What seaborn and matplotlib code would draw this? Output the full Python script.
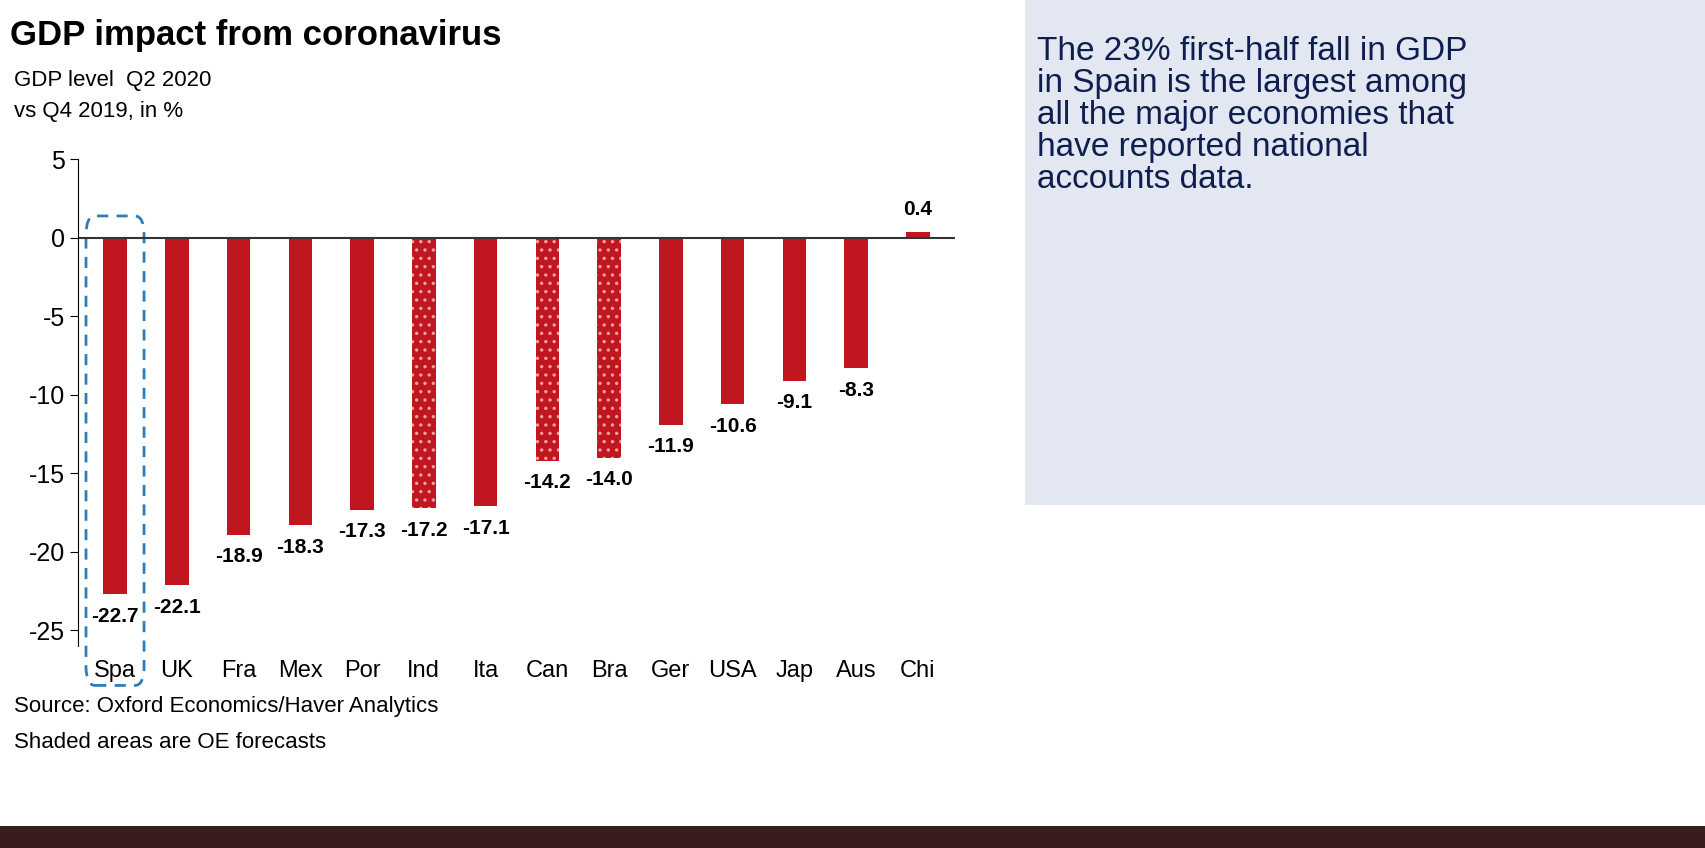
import matplotlib
matplotlib.use("Agg")
import matplotlib.pyplot as plt
import seaborn as sns
import pandas as pd
from matplotlib.patches import FancyBboxPatch, Rectangle

countries = ["Spa", "UK", "Fra", "Mex", "Por", "Ind", "Ita", "Can", "Bra", "Ger", "USA", "Jap", "Aus", "Chi"]
values = [-22.7, -22.1, -18.9, -18.3, -17.3, -17.2, -17.1, -14.2, -14.0, -11.9, -10.6, -9.1, -8.3, 0.4]
forecast = [False, False, False, False, False, True, False, True, True, False, False, False, False, False]
yticks = [5, 0, -5, -10, -15, -20, -25]

plt.rcParams["font.family"] = "Liberation Sans"
plt.rcParams["axes.unicode_minus"] = False
plt.rcParams["hatch.linewidth"] = 1.2
df = pd.DataFrame({"country": countries, "value": values})
red = "#C0161F"

fig = plt.figure(figsize=(17.06, 8.48), dpi=100)
ax = fig.add_axes([0.0457, 0.238, 0.514, 0.574])
sns.barplot(data=df, x="country", y="value", color=red, width=0.38, ax=ax, saturation=1)
for bar, fc in zip(ax.patches, forecast):
    bar.set_linewidth(0)
    if fc:
        bar.set_hatch("..")
        bar.set_edgecolor("#F4A0A0")
ax.set_ylim(-26, 5)
ax.set_xlim(-0.6, 13.6)
ax.set_yticks(yticks)
ax.tick_params(axis="y", labelsize=18, length=6, direction="out")
ax.tick_params(axis="x", labelsize=17, length=0, pad=10)
ax.set_xlabel("")
ax.set_ylabel("")
for s in ["top", "right", "bottom"]:
    ax.spines[s].set_visible(False)
ax.axhline(0, color="#333333", lw=1.5)
for i, v in enumerate(values):
    if v < 0:
        ax.text(i, v - 0.8, f"{v:.1f}", ha="center", va="top", fontsize=15, fontweight="bold")
    else:
        ax.text(i, v + 0.8, f"{v:.1f}", ha="center", va="bottom", fontsize=15, fontweight="bold")
box = FancyBboxPatch((-0.47, -28.5), 0.94, 29.9, boxstyle="round,pad=0,rounding_size=0.15",
                     fill=False, ec="#2E7DB8", ls=(0, (4, 3)), lw=2, clip_on=False,
                     mutation_aspect=8)
ax.add_patch(box)

fig.text(0.006, 0.958, "GDP impact from coronavirus", fontsize=25, fontweight="bold", va="center")
fig.text(0.008, 0.905, "GDP level  Q2 2020", fontsize=16, va="center")
fig.text(0.008, 0.868, "vs Q4 2019, in %", fontsize=16, va="center")
fig.text(0.008, 0.167, "Source: Oxford Economics/Haver Analytics", fontsize=16, va="center")
fig.text(0.008, 0.125, "Shaded areas are OE forecasts", fontsize=16, va="center")

fig.patches.append(Rectangle((0.601, 0.405), 0.399, 0.595, transform=fig.transFigure,
                             fc="#E2E7F1", ec="none", zorder=0))
fig.patches.append(Rectangle((0, 0), 1, 0.026, transform=fig.transFigure,
                             fc="#3B1C1C", ec="none", zorder=0))
fig.text(0.608, 0.958, "The 23% first-half fall in GDP\nin Spain is the largest among\nall the major economies that\nhave reported national\naccounts data.",
         fontsize=24, va="top", color="#0E1E4E", linespacing=1.05)

fig.savefig("out.png", dpi=100)
